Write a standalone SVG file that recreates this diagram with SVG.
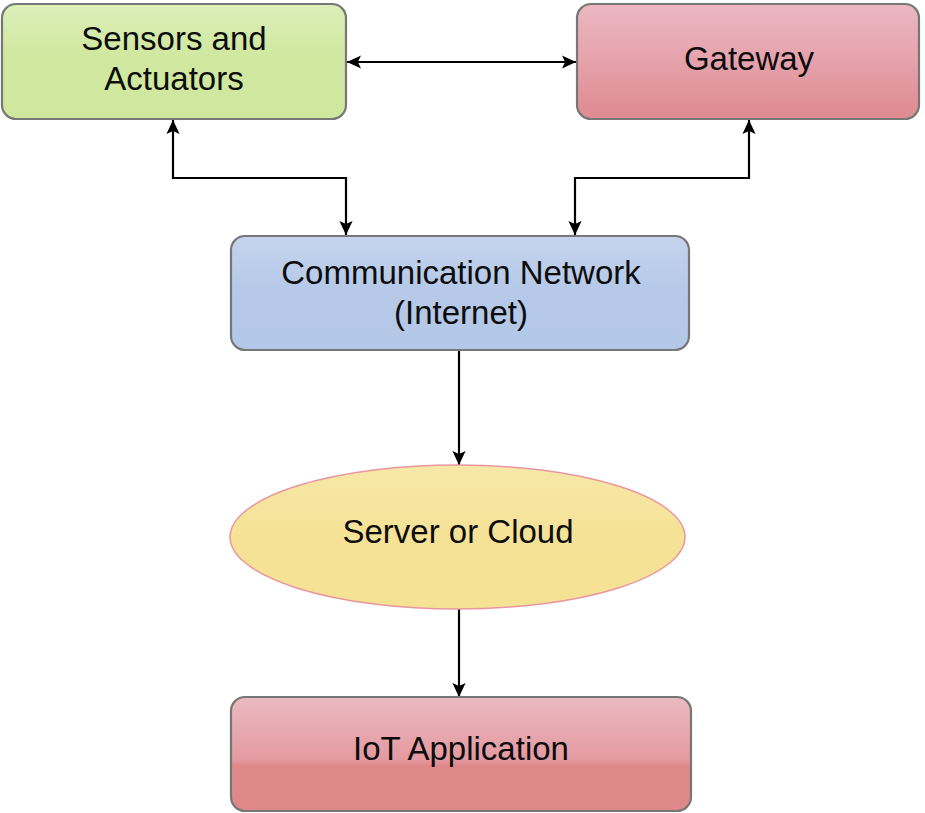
<svg xmlns="http://www.w3.org/2000/svg" width="925" height="813" viewBox="0 0 925 813">
<style>
.box{stroke:#777;stroke-width:2.2}
.lbl{font-family:"Liberation Sans",Arial,sans-serif;font-size:33px;fill:#0d0d0d;text-anchor:middle}
.conn{fill:none;stroke:#000;stroke-width:2.2}
</style>
<defs>
<marker id="ah" viewBox="0 0 10 10" refX="10" refY="5" markerWidth="14" markerHeight="14" markerUnits="userSpaceOnUse" orient="auto-start-reverse">
<path d="M0,0.3 L10,5 L0,9.7 L2.2,5 Z" fill="#000"/>
</marker>
<linearGradient id="gGreen" x1="0" y1="0" x2="0" y2="1">
<stop offset="0" stop-color="#dcefb8"/><stop offset="0.45" stop-color="#d0e8a0"/><stop offset="1" stop-color="#cfe79d"/>
</linearGradient>
<linearGradient id="gPink" x1="0" y1="0" x2="0" y2="1">
<stop offset="0" stop-color="#ebb8c2"/><stop offset="0.45" stop-color="#e6a4ae"/><stop offset="1" stop-color="#df8a90"/>
</linearGradient>
<linearGradient id="gBlue" x1="0" y1="0" x2="0" y2="1">
<stop offset="0" stop-color="#c4d4ee"/><stop offset="0.45" stop-color="#b6c9e8"/><stop offset="1" stop-color="#b3c7e7"/>
</linearGradient>
<linearGradient id="gYellow" x1="0" y1="0" x2="0" y2="1">
<stop offset="0" stop-color="#f7e8a8"/><stop offset="0.5" stop-color="#f5e296"/><stop offset="1" stop-color="#f5e294"/>
</linearGradient>
<linearGradient id="gRed" x1="0" y1="0" x2="0" y2="1">
<stop offset="0" stop-color="#ebbac2"/><stop offset="0.55" stop-color="#e49aa0"/><stop offset="0.6" stop-color="#e0898b"/><stop offset="1" stop-color="#df888a"/>
</linearGradient>
</defs>
<g id="connectors">
<line class="conn" x1="347" y1="62" x2="576" y2="62" marker-start="url(#ah)" marker-end="url(#ah)"/>
<polyline class="conn" points="173,120 173,178 346,178 346,235" marker-start="url(#ah)" marker-end="url(#ah)"/>
<polyline class="conn" points="749,120 749,178 575,178 575,235" marker-start="url(#ah)" marker-end="url(#ah)"/>
<line class="conn" x1="459" y1="351" x2="459" y2="465" marker-end="url(#ah)"/>
<line class="conn" x1="459" y1="609" x2="459" y2="697" marker-end="url(#ah)"/>
</g>
<g id="sensors">
<rect class="box" x="2" y="4" width="344" height="115" rx="14" fill="url(#gGreen)"/>
<text class="lbl" x="174" y="50">Sensors and</text>
<text class="lbl" x="174" y="90">Actuators</text>
</g>
<g id="gateway">
<rect class="box" x="577" y="4" width="342" height="115" rx="14" fill="url(#gPink)"/>
<text class="lbl" x="749" y="70">Gateway</text>
</g>
<g id="network">
<rect class="box" x="231" y="236" width="458" height="114" rx="14" fill="url(#gBlue)"/>
<text class="lbl" x="461" y="284">Communication Network</text>
<text class="lbl" x="461" y="324">(Internet)</text>
</g>
<g id="server">
<ellipse cx="457.5" cy="537" rx="227.5" ry="72" fill="url(#gYellow)" stroke="#e897a0" stroke-width="1.5"/>
<text class="lbl" x="458" y="543">Server or Cloud</text>
</g>
<g id="iot">
<rect class="box" x="231" y="697" width="460" height="114" rx="14" fill="url(#gRed)"/>
<text class="lbl" x="461" y="760">IoT Application</text>
</g>
</svg>
